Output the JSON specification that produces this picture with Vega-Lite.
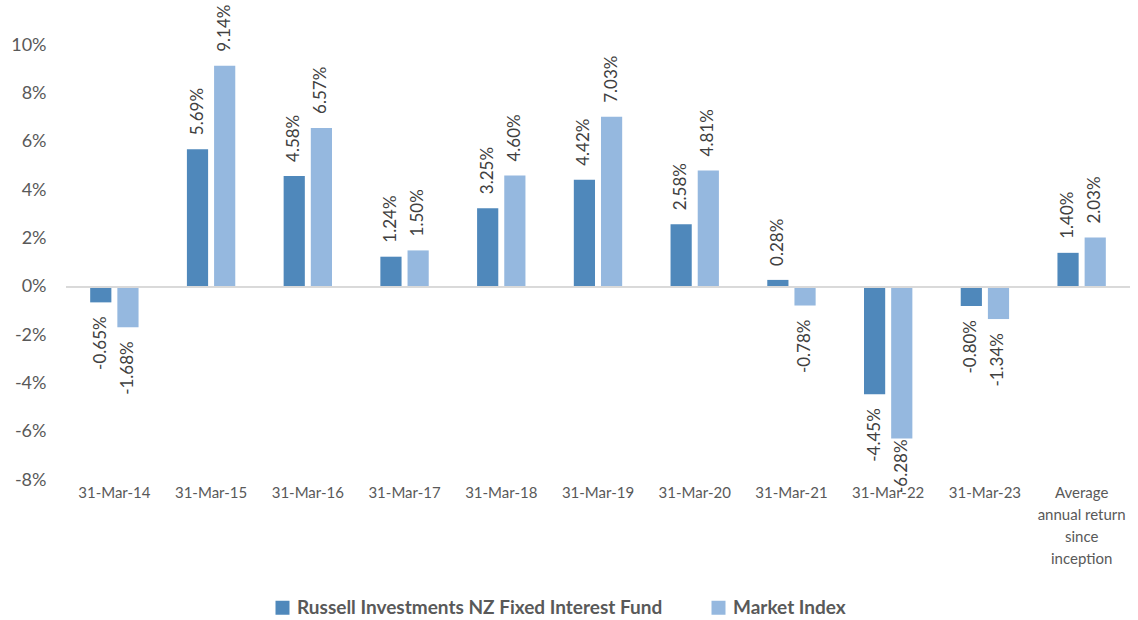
{
  "$schema": "https://vega.github.io/schema/vega-lite/v6.json",
  "autosize": {"type": "none"},
  "width": 1064,
  "height": 435,
  "padding": {"left": 66, "top": 45, "right": 8, "bottom": 140},
  "background": "white",
  "config": {
    "view": {"stroke": null},
    "font": "Lato",
    "locale": {"number": {"decimal": ".", "thousands": ",", "grouping": [3], "currency": ["$", ""], "minus": "-"}},
    "axis": {"labelColor": "#595959", "grid": false, "domain": false, "ticks": false, "title": null}
  },
  "data": {
    "values": [
      {"period": "31-Mar-14", "series": "Russell Investments NZ Fixed Interest Fund", "value": -0.0065},
      {"period": "31-Mar-14", "series": "Market Index", "value": -0.0168},
      {"period": "31-Mar-15", "series": "Russell Investments NZ Fixed Interest Fund", "value": 0.0569},
      {"period": "31-Mar-15", "series": "Market Index", "value": 0.0914},
      {"period": "31-Mar-16", "series": "Russell Investments NZ Fixed Interest Fund", "value": 0.0458},
      {"period": "31-Mar-16", "series": "Market Index", "value": 0.0657},
      {"period": "31-Mar-17", "series": "Russell Investments NZ Fixed Interest Fund", "value": 0.0124},
      {"period": "31-Mar-17", "series": "Market Index", "value": 0.0150},
      {"period": "31-Mar-18", "series": "Russell Investments NZ Fixed Interest Fund", "value": 0.0325},
      {"period": "31-Mar-18", "series": "Market Index", "value": 0.0460},
      {"period": "31-Mar-19", "series": "Russell Investments NZ Fixed Interest Fund", "value": 0.0442},
      {"period": "31-Mar-19", "series": "Market Index", "value": 0.0703},
      {"period": "31-Mar-20", "series": "Russell Investments NZ Fixed Interest Fund", "value": 0.0258},
      {"period": "31-Mar-20", "series": "Market Index", "value": 0.0481},
      {"period": "31-Mar-21", "series": "Russell Investments NZ Fixed Interest Fund", "value": 0.0028},
      {"period": "31-Mar-21", "series": "Market Index", "value": -0.0078},
      {"period": "31-Mar-22", "series": "Russell Investments NZ Fixed Interest Fund", "value": -0.0445},
      {"period": "31-Mar-22", "series": "Market Index", "value": -0.0628},
      {"period": "31-Mar-23", "series": "Russell Investments NZ Fixed Interest Fund", "value": -0.0080},
      {"period": "31-Mar-23", "series": "Market Index", "value": -0.0134},
      {"period": "Average annual return since inception", "series": "Russell Investments NZ Fixed Interest Fund", "value": 0.0140},
      {"period": "Average annual return since inception", "series": "Market Index", "value": 0.0203}
    ]
  },
  "encoding": {
    "x": {
      "field": "period", "type": "nominal", "sort": null,
      "scale": {"paddingInner": 0.5, "paddingOuter": 0.25},
      "axis": {
        "labelAngle": 0, "labelFontSize": 15, "labelPadding": 12, "labelLineHeight": 22,
        "labelBaseline": "middle",
        "labelExpr": "datum.label == 'Average annual return since inception' ? ['Average', 'annual return', 'since', 'inception'] : datum.label"
      }
    },
    "xOffset": {
      "field": "series", "type": "nominal", "sort": null,
      "scale": {"paddingInner": 0.22, "paddingOuter": 0, "domain": ["Russell Investments NZ Fixed Interest Fund", "Market Index"]}
    },
    "y": {
      "field": "value", "type": "quantitative",
      "scale": {"domain": [-0.08, 0.10], "nice": false, "zero": false},
      "axis": {"format": ".0%", "values": [-0.08, -0.06, -0.04, -0.02, 0, 0.02, 0.04, 0.06, 0.08, 0.10], "labelFontSize": 18, "labelPadding": 20}
    }
  },
  "layer": [
    {
      "mark": {"type": "bar"},
      "encoding": {
        "color": {
          "field": "series", "type": "nominal", "sort": null,
          "scale": {"domain": ["Russell Investments NZ Fixed Interest Fund", "Market Index"], "range": ["#4F88BB", "#95B8DF"]},
          "legend": {
            "orient": "none", "legendX": 207, "legendY": 553, "direction": "horizontal", "title": null,
            "symbolType": "square", "symbolSize": 196, "symbolStrokeWidth": 0, "labelOffset": 5,
            "labelFontSize": 19, "labelFontWeight": "bold", "labelColor": "#595959",
            "columnPadding": 46, "labelLimit": 600
          }
        }
      }
    },
    {
      "mark": {"type": "rule", "color": "#D9D9D9", "strokeWidth": 1.5},
      "encoding": {"y": {"datum": 0}, "x": null, "xOffset": null}
    },
    {
      "transform": [{"filter": "datum.value >= 0"}],
      "mark": {"type": "text", "angle": 270, "align": "left", "baseline": "middle", "dx": 14, "fontSize": 17, "color": "#404040"},
      "encoding": {"text": {"field": "value", "format": ".2%"}}
    },
    {
      "transform": [{"filter": "datum.value < 0"}],
      "mark": {"type": "text", "angle": 270, "align": "right", "baseline": "middle", "dx": {"expr": "datum.value < -0.06 ? -1 : -14"}, "fontSize": 17, "color": "#404040"},
      "encoding": {"text": {"field": "value", "format": ".2%"}}
    }
  ]
}
